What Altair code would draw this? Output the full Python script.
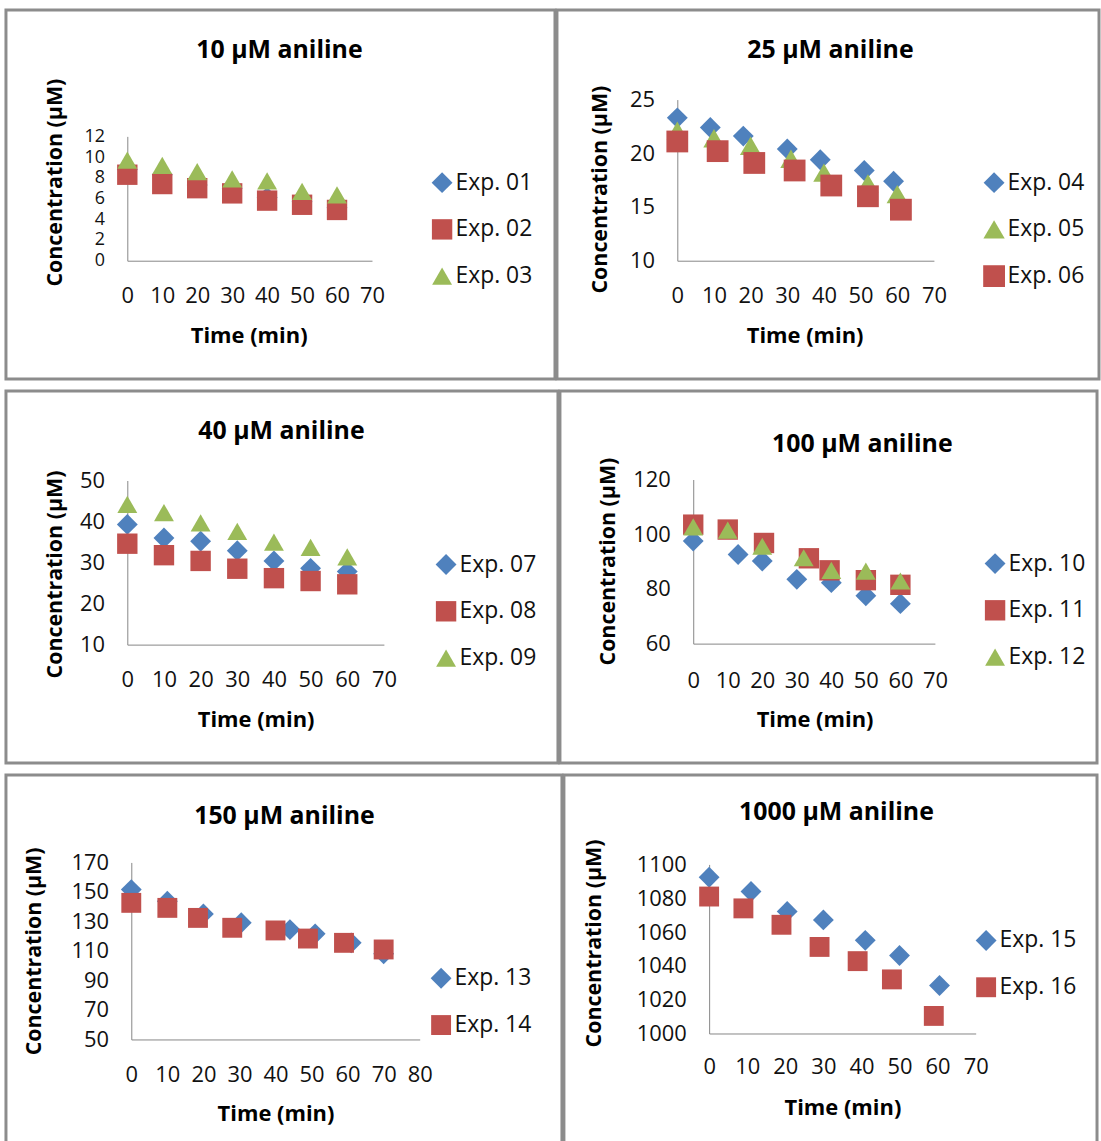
import altair as alt
import pandas as pd

FONT = "Open Sans"
BLUE, RED, GREEN = "#4F81BD", "#C0504D", "#9BBB59"
BORDER = "#8c8c8c"
AXIS = "#868686"

# ---------------- data ----------------
titles = ["10 µM aniline", "25 µM aniline", "40 µM aniline",
          "100 µM aniline", "150 µM aniline", "1000 µM aniline"]

# 10 µM
exp01_t = [0, 10, 20, 30, 40, 50, 60]
exp01_c = [8.8, 8.3, 7.3, 7.0, 6.1, 5.7, 5.1]
exp02_t = [0, 10, 20, 30, 40, 50, 60]
exp02_c = [8.3, 7.4, 7.0, 6.5, 5.8, 5.4, 4.9]
exp03_t = [0, 10, 20, 30, 40, 50, 60]
exp03_c = [9.7, 9.2, 8.6, 7.9, 7.7, 6.7, 6.35]

# 25 µM
exp04_t = [0, 9, 18, 30, 39, 51, 59]
exp04_c = [23.3, 22.4, 21.6, 20.4, 19.4, 18.4, 17.4]
exp05_t = [0, 10, 20, 31, 40, 52, 60]
exp05_c = [22.1, 21.4, 20.7, 19.5, 18.2, 17.2, 16.2]
exp06_t = [0, 11, 21, 32, 42, 52, 61]
exp06_c = [21.1, 20.2, 19.1, 18.4, 17.0, 16.0, 14.75]

# 40 µM
exp07_t = [0, 10, 20, 30, 40, 50, 60]
exp07_c = [39.3, 36.0, 35.2, 32.9, 30.4, 28.6, 27.8]
exp08_t = [0, 10, 20, 30, 40, 50, 60]
exp08_c = [34.6, 31.8, 30.4, 28.5, 26.2, 25.5, 24.7]
exp09_t = [0, 10, 20, 30, 40, 50, 60]
exp09_c = [44.2, 42.2, 39.7, 37.6, 35.0, 33.7, 31.4]

# 100 µM
exp10_t = [0, 13, 20, 30, 40, 50, 60]
exp10_c = [97.5, 92.6, 90.2, 83.5, 82.3, 77.5, 74.6]
exp11_t = [0, 10, 20.5, 33.5, 39.5, 50, 60]
exp11_c = [103.5, 101.7, 96.8, 91.2, 86.8, 83.2, 81.5]
exp12_t = [0, 10, 20, 32, 40, 50, 60]
exp12_c = [102.7, 101.5, 95.6, 91.4, 86.8, 86.5, 82.9]

# 150 µM
exp13_t = [0, 10, 20, 30.5, 44, 51, 61, 70]
exp13_c = [151.6, 143.7, 135.1, 129.1, 124.5, 121.6, 115.5, 108.1]
exp14_t = [0, 10, 18.5, 28, 40, 49, 59, 70]
exp14_c = [142.6, 139.2, 132.4, 125.7, 123.9, 118.4, 115.5, 111.0]

# 1000 µM
exp15_t = [0, 11, 20.5, 30, 41, 50, 60.5]
exp15_c = [1092.4, 1084.0, 1072.2, 1067.2, 1055.1, 1046.1, 1028.4]
exp16_t = [0, 9, 19, 29, 39, 48, 59]
exp16_c = [1081.0, 1074.0, 1064.3, 1051.2, 1042.8, 1032.0, 1010.4]

# axis ticks
x_ticks_70 = [0, 10, 20, 30, 40, 50, 60, 70]
x_ticks_80 = [0, 10, 20, 30, 40, 50, 60, 70, 80]
y_ticks = [
    [0, 2, 4, 6, 8, 10, 12],
    [10, 15, 20, 25],
    [10, 20, 30, 40, 50],
    [60, 80, 100, 120],
    [50, 70, 90, 110, 130, 150, 170],
    [1000, 1020, 1040, 1060, 1080, 1100],
]

# marker style keys: D = blue diamond, S = red square, T = green triangle
series_sets = [
    [("Exp. 01", exp01_t, exp01_c, "D"), ("Exp. 02", exp02_t, exp02_c, "S"), ("Exp. 03", exp03_t, exp03_c, "T")],
    [("Exp. 04", exp04_t, exp04_c, "D"), ("Exp. 05", exp05_t, exp05_c, "T"), ("Exp. 06", exp06_t, exp06_c, "S")],
    [("Exp. 07", exp07_t, exp07_c, "D"), ("Exp. 08", exp08_t, exp08_c, "S"), ("Exp. 09", exp09_t, exp09_c, "T")],
    [("Exp. 10", exp10_t, exp10_c, "D"), ("Exp. 11", exp11_t, exp11_c, "S"), ("Exp. 12", exp12_t, exp12_c, "T")],
    [("Exp. 13", exp13_t, exp13_c, "D"), ("Exp. 14", exp14_t, exp14_c, "S")],
    [("Exp. 15", exp15_t, exp15_c, "D"), ("Exp. 16", exp16_t, exp16_c, "S")],
]

STYLE = {
    "D": ("diamond", BLUE, 440),
    "S": ("square", RED, 400),
    "T": ("triangle-up", GREEN, 480),
}

# ---------------- layout (panel-local pixels) ----------------
layout = [
    dict(w=552, h=371, xd=[0, 70], xt=x_ticks_70, xr=[122, 368], yd=[0, 12], yr=[252, 127],
         title=(275, 40), ytitle=(50, 173), xtitle=(244, 324), xlab=286, leg=(434, 171), ylf=18),
    dict(w=545, h=371, xd=[0, 70], xt=x_ticks_70, xr=[121, 379], yd=[10, 25], yr=[252, 90],
         title=(275, 40), ytitle=(44, 180), xtitle=(249, 324), xlab=286, leg=(435, 171), ylf=22),
    dict(w=555, h=374, xd=[0, 70], xt=x_ticks_70, xr=[122, 380], yd=[10, 50], yr=[255, 90],
         title=(277, 40), ytitle=(50, 184), xtitle=(251, 327), xlab=289, leg=(438, 172), ylf=22),
    dict(w=540, h=374, xd=[0, 70], xt=x_ticks_70, xr=[134, 377], yd=[60, 120], yr=[254, 89],
         title=(304, 53), ytitle=(49, 171), xtitle=(256, 327), xlab=290, leg=(433, 171), ylf=22),
    dict(w=559, h=371, xd=[0, 80], xt=x_ticks_80, xr=[126, 416], yd=[50, 170], yr=[266, 88],
         title=(280, 41), ytitle=(29, 177), xtitle=(271, 337), xlab=300, leg=(433, 202), ylf=22),
    dict(w=536, h=371, xd=[0, 70], xt=x_ticks_70, xr=[146, 414], yd=[1000, 1100], yr=[260, 90],
         title=(274, 37), ytitle=(31, 169), xtitle=(280, 331), xlab=292, leg=(420, 164), ylf=22),
]


def make_panel(i):
    L = layout[i]
    rows = []
    names, shapes, colors, sizes = [], [], [], []
    for k, (name, ts, cs, st) in enumerate(series_sets[i]):
        shp, col, sz = STYLE[st]
        names.append(name)
        shapes.append(shp)
        colors.append(col)
        sizes.append(sz)
        for t, c in zip(ts, cs):
            rows.append({"series": name, "time": t, "conc": c, "order": k})
    df = pd.DataFrame(rows)
    legend = alt.Legend(
        title=None, orient="none", legendX=L["leg"][0] - 7, legendY=L["leg"][1] - 9,
        symbolSize=170, labelFontSize=23, labelFont=FONT, labelColor="#111111",
        rowPadding=23, labelOffset=2, symbolStrokeWidth=0, symbolOpacity=1,
    )
    xaxis_y = L["yr"][0]
    pts = alt.Chart(df).mark_point(filled=True, opacity=1, strokeWidth=0).encode(
        x=alt.X("time:Q",
                scale=alt.Scale(domain=L["xd"], range=L["xr"], nice=False, zero=False),
                axis=alt.Axis(values=L["xt"], offset=-(L["h"] - xaxis_y), ticks=False,
                              grid=False, domainColor=AXIS, domainWidth=1, format="d",
                              labelFontSize=22, labelFont=FONT, labelColor="#111111",
                              labelPadding=L["xlab"] - xaxis_y - 9, labelFlush=False,
                              labelOverlap=False,
                              title="Time (min)", titleFont=FONT, titleFontSize=22,
                              titleFontWeight="bold", titleColor="#000000",
                              titleX=L["xtitle"][0], titleY=L["xtitle"][1] - xaxis_y + 3,
                              titleAlign="center", titleBaseline="middle")),
        y=alt.Y("conc:Q",
                scale=alt.Scale(domain=L["yd"], range=L["yr"], nice=False, zero=False),
                axis=alt.Axis(values=y_ticks[i], offset=-L["xr"][0], ticks=False,
                              grid=False, domainColor=AXIS, domainWidth=1, format="d",
                              labelFontSize=L["ylf"], labelFont=FONT, labelColor="#111111",
                              labelPadding=23, labelFlush=False, labelOverlap=False,
                              title="Concentration (µM)", titleFont=FONT, titleFontSize=21.5,
                              titleFontWeight="bold", titleColor="#000000",
                              titleX=L["ytitle"][0] - L["xr"][0], titleY=L["ytitle"][1],
                              titleAngle=270, titleAlign="center", titleBaseline="middle")),
        color=alt.Color("series:N", scale=alt.Scale(domain=names, range=colors), legend=legend),
        shape=alt.Shape("series:N", scale=alt.Scale(domain=names, range=shapes), legend=legend),
        size=alt.Size("series:N", scale=alt.Scale(domain=names, range=sizes), legend=None),
        order=alt.Order("order:Q"),
    )
    ttl = alt.Chart(pd.DataFrame({"t": [titles[i]]})).mark_text(
        font=FONT, fontSize=25, fontWeight="bold", color="#000000",
        align="center", baseline="middle",
    ).encode(x=alt.value(L["title"][0]), y=alt.value(L["title"][1]), text="t:N")
    return alt.layer(pts, ttl).properties(width=L["w"], height=L["h"])


RES = dict(x="independent", y="independent", color="independent",
           shape="independent", size="independent")


def row(a, b):
    return alt.hconcat(make_panel(a), make_panel(b), spacing=2, bounds="flush").resolve_scale(**RES)


chart = alt.vconcat(row(0, 1), row(2, 3), row(4, 5), spacing=8).resolve_scale(**RES).properties(
    padding={"left": 4, "top": 5, "right": 0, "bottom": 0},
    background="white",
).configure_view(
    stroke=BORDER, strokeWidth=3, fill="white",
)

chart.save("out.html", embed_options={"renderer": "svg", "actions": False})
